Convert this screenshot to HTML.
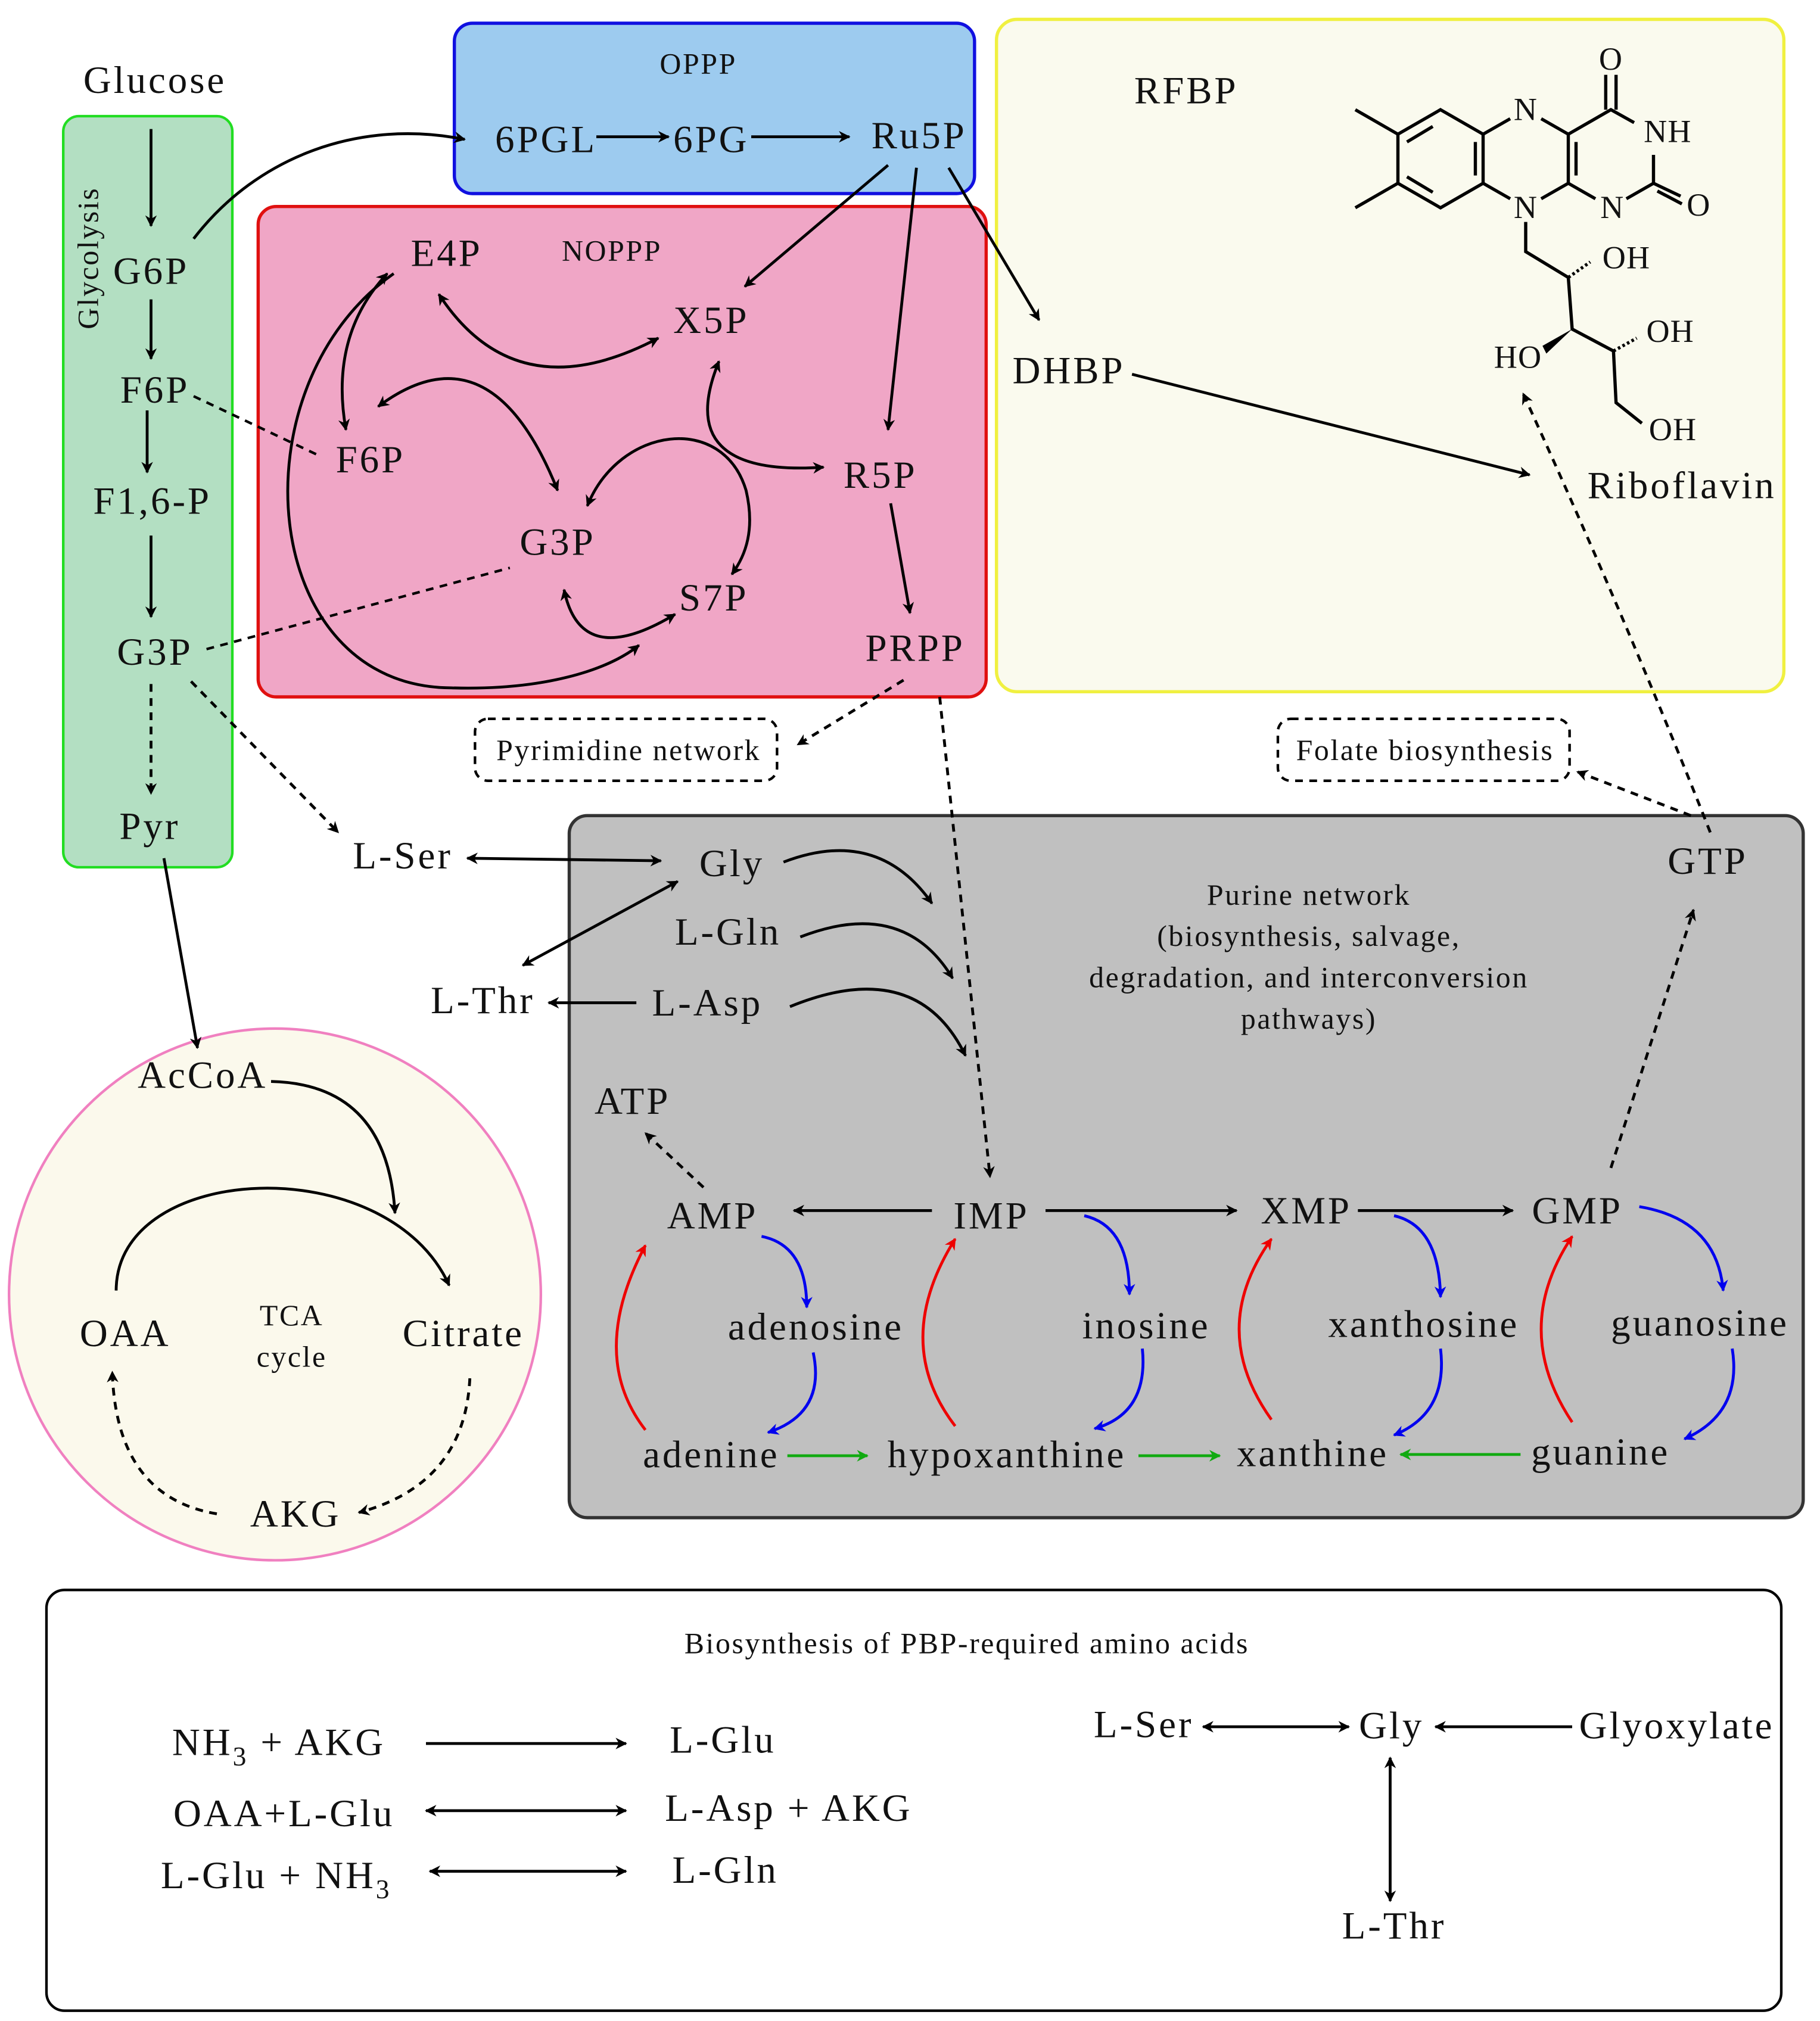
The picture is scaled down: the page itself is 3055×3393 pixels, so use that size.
<!DOCTYPE html>
<html><head><meta charset="utf-8"><style>
html,body{margin:0;padding:0;background:#fff;}
svg{display:block;}
text{font-family:"Liberation Serif",serif;fill:#111;}
</style></head><body>
<svg width="3055" height="3393" viewBox="0 0 1410 1566" xmlns="http://www.w3.org/2000/svg">
<defs>
<marker id="a" viewBox="0 0 10 10" refX="9" refY="5" markerWidth="9" markerHeight="9" markerUnits="userSpaceOnUse" orient="auto-start-reverse"><path d="M0,0 L10,5 L0,10 L3,5 z" fill="#000"/></marker>
<marker id="r" viewBox="0 0 10 10" refX="9" refY="5" markerWidth="9" markerHeight="9" markerUnits="userSpaceOnUse" orient="auto-start-reverse"><path d="M0,0 L10,5 L0,10 L3,5 z" fill="#e00"/></marker>
<marker id="b" viewBox="0 0 10 10" refX="9" refY="5" markerWidth="9" markerHeight="9" markerUnits="userSpaceOnUse" orient="auto-start-reverse"><path d="M0,0 L10,5 L0,10 L3,5 z" fill="#00e"/></marker>
<marker id="g" viewBox="0 0 10 10" refX="9" refY="5" markerWidth="9" markerHeight="9" markerUnits="userSpaceOnUse" orient="auto-start-reverse"><path d="M0,0 L10,5 L0,10 L3,5 z" fill="#1a1"/></marker>
</defs>

<rect x="49" y="90" width="131" height="582" rx="12" fill="#b3dfc2" stroke="#22dd22" stroke-width="2"/>
<rect x="352" y="18" width="403" height="132" rx="14" fill="#9dcbef" stroke="#1010e0" stroke-width="2.5"/>
<rect x="200" y="160" width="564" height="380" rx="14" fill="#f0a6c6" stroke="#e01010" stroke-width="2.5"/>
<rect x="772" y="15" width="610" height="521" rx="16" fill="#fafaee" stroke="#f0f040" stroke-width="2.5"/>
<rect x="441" y="632" width="956" height="544" rx="14" fill="#c0c0c0" stroke="#333" stroke-width="2.5"/>
<circle cx="213" cy="1003" r="206" fill="#fbf9ec" stroke="#f080c0" stroke-width="2"/>
<rect x="36" y="1232" width="1344" height="326" rx="14" fill="#fff" stroke="#000" stroke-width="2"/>
<rect x="368" y="557" width="234" height="48" rx="10" fill="none" stroke="#000" stroke-width="2" stroke-dasharray="6,5"/>
<rect x="990" y="557" width="226" height="48" rx="10" fill="none" stroke="#000" stroke-width="2" stroke-dasharray="6,5"/>

<g stroke="#000" stroke-width="2.5" fill="none">
<polygon points="1116,85 1149,104 1149,142 1116,161 1083,142 1083,104"/>
<polyline points="1149,104 1170,92"/><polyline points="1149,142 1170,154"/>
<polyline points="1194,92 1215,104 1215,142 1194,154"/>
<polyline points="1215,104 1248,85 1266,95"/>
<polyline points="1215,142 1236,154"/>
<polyline points="1260,154 1281,142 1281,120"/>
<line x1="1090" y1="110" x2="1110" y2="98"/><line x1="1090" y1="137" x2="1110" y2="149"/><line x1="1143" y1="110" x2="1143" y2="136"/>
<line x1="1221" y1="110" x2="1221" y2="136"/>
<line x1="1244" y1="85" x2="1244" y2="58"/><line x1="1252" y1="85" x2="1252" y2="58"/>
<line x1="1281" y1="142" x2="1302" y2="152"/><line x1="1284" y1="148" x2="1303" y2="158"/>
<line x1="1083" y1="104" x2="1050" y2="85"/><line x1="1083" y1="142" x2="1050" y2="161"/>
<polyline points="1182,172 1182,195 1215,215 1218,255 1250,272 1252,312 1272,328"/>
<line x1="1215" y1="215" x2="1232" y2="203" stroke-dasharray="2,2"/>
<line x1="1250" y1="272" x2="1268" y2="262" stroke-dasharray="2,2"/>
</g>
<polygon points="1218,255 1195,268 1198,274" fill="#000"/>
<g font-size="25" text-anchor="middle" letter-spacing="0.5">
<text x="1182" y="93">N</text><text x="1182" y="169">N</text><text x="1249" y="169">N</text>
<text x="1292" y="110">NH</text><text x="1248" y="54">O</text><text x="1316" y="167">O</text>
<text x="1260" y="208">OH</text><text x="1294" y="265">OH</text><text x="1296" y="341">OH</text><text x="1176" y="285">HO</text>
</g>

<g font-size="30" text-anchor="middle" letter-spacing="1.8">
<text x="120" y="72">Glucose</text>
<text x="117" y="220">G6P</text><text x="120" y="312">F6P</text><text x="118" y="398">F1,6-P</text>
<text x="120" y="515">G3P</text><text x="116" y="650">Pyr</text>
<text x="423" y="118">6PGL</text><text x="551" y="118">6PG</text><text x="712" y="115">Ru5P</text>
<text x="346" y="206">E4P</text><text x="551" y="258">X5P</text><text x="287" y="366">F6P</text>
<text x="432" y="430">G3P</text><text x="682" y="378">R5P</text><text x="553" y="473">S7P</text><text x="709" y="512">PRPP</text>
<text x="919" y="80">RFBP</text><text x="828" y="297">DHBP</text><text x="1303" y="386">Riboflavin</text>
<text x="312" y="673">L-Ser</text><text x="567" y="679">Gly</text><text x="564" y="732">L-Gln</text>
<text x="374" y="785">L-Thr</text><text x="548" y="787">L-Asp</text><text x="1323" y="677">GTP</text>
<text x="490" y="863">ATP</text><text x="552" y="952">AMP</text><text x="768" y="952">IMP</text>
<text x="1012" y="948">XMP</text><text x="1222" y="948">GMP</text>
<text x="632" y="1038">adenosine</text><text x="888" y="1037">inosine</text><text x="1103" y="1036">xanthosine</text><text x="1317" y="1035">guanosine</text>
<text x="551" y="1137">adenine</text><text x="780" y="1137">hypoxanthine</text><text x="1017" y="1136">xanthine</text><text x="1240" y="1135">guanine</text>
<text x="157" y="843">AcCoA</text><text x="97" y="1043">OAA</text><text x="359" y="1043">Citrate</text><text x="229" y="1183">AKG</text>
<text x="216" y="1360">NH<tspan font-size="21" dy="8">3</tspan><tspan dy="-8"> + AKG</tspan></text>
<text x="560" y="1358">L-Glu</text>
<text x="220" y="1415">OAA+L-Glu</text><text x="611" y="1411">L-Asp + AKG</text>
<text x="214" y="1463">L-Glu + NH<tspan font-size="21" dy="8">3</tspan></text><text x="562" y="1459">L-Gln</text>
<text x="886" y="1346">L-Ser</text><text x="1078" y="1347">Gly</text><text x="1299" y="1347">Glyoxylate</text><text x="1080" y="1502">L-Thr</text>
</g>
<g font-size="23" text-anchor="middle" letter-spacing="1.2">
<text x="541" y="57">OPPP</text><text x="474" y="202">NOPPP</text>
<text x="487" y="589">Pyrimidine network</text><text x="1104" y="589">Folate biosynthesis</text>
<text x="1014" y="701">Purine network</text><text x="1014" y="733">(biosynthesis, salvage,</text>
<text x="1014" y="765">degradation, and interconversion</text><text x="1014" y="797">pathways)</text>
<text x="226" y="1027">TCA</text><text x="226" y="1059">cycle</text>
<text x="749" y="1281">Biosynthesis of PBP-required amino acids</text>
<text x="0" y="0" transform="translate(76,200) rotate(-90)">Glycolysis</text>
</g>

<g stroke="#000" stroke-width="2.2" fill="none" marker-end="url(#a)">
<line x1="117" y1="100" x2="117" y2="175"/><line x1="117" y1="232" x2="117" y2="278"/>
<line x1="114" y1="318" x2="114" y2="366"/><line x1="117" y1="415" x2="117" y2="478"/>
<line x1="117" y1="530" x2="117" y2="615" stroke-dasharray="6,5"/>
<path d="M150,185 C200,120 280,92 360,108"/>
<line x1="462" y1="106" x2="518" y2="106"/><line x1="582" y1="106" x2="658" y2="106"/>
<line x1="688" y1="128" x2="577" y2="222"/><line x1="710" y1="130" x2="688" y2="333"/>
<line x1="735" y1="130" x2="805" y2="248"/><line x1="690" y1="390" x2="705" y2="475"/>
<line x1="877" y1="290" x2="1185" y2="368"/>
<path d="M1325,645 Q1260,480 1180,305" stroke-dasharray="6,5"/>
<line x1="1310" y1="632" x2="1222" y2="598" stroke-dasharray="6,5"/>
<line x1="700" y1="527" x2="618" y2="577" stroke-dasharray="6,5"/>
<line x1="728" y1="540" x2="767" y2="912" stroke-dasharray="6,5"/>
<line x1="148" y1="528" x2="262" y2="645" stroke-dasharray="6,5"/>
<line x1="127" y1="665" x2="153" y2="812"/>
<path d="M300,212 Q255,260 268,333" marker-start="url(#a)"/>
<path d="M340,228 Q400,320 510,262" marker-start="url(#a)"/>
<path d="M293,315 Q380,250 432,380" marker-start="url(#a)"/>
<path d="M557,280 Q520,370 638,362" marker-start="url(#a)"/>
<path d="M455,392 C480,330 560,320 578,380 C585,410 578,430 567,445" marker-start="url(#a)"/>
<path d="M437,457 Q450,520 523,476" marker-start="url(#a)"/>
<path d="M305,212 C180,300 200,533 350,533 C420,535 470,520 495,500"/>
<line x1="362" y1="665" x2="512" y2="667" marker-start="url(#a)"/>
<line x1="525" y1="683" x2="405" y2="748" marker-start="url(#a)"/>
<line x1="493" y1="777" x2="425" y2="777"/>
<path d="M607,668 Q680,640 722,700"/><path d="M620,726 Q700,695 738,758"/><path d="M612,780 Q710,740 748,818"/>
<line x1="545" y1="920" x2="500" y2="878" stroke-dasharray="6,5"/>
<line x1="722" y1="938" x2="615" y2="938"/><line x1="810" y1="938" x2="958" y2="938"/>
<line x1="1052" y1="938" x2="1172" y2="938"/>
<line x1="1248" y1="905" x2="1312" y2="705" stroke-dasharray="6,5"/>
<path d="M210,838 Q300,840 306,940"/>
<path d="M90,1000 C90,900 300,890 348,996"/>
<path d="M364,1068 Q360,1150 278,1172" stroke-dasharray="6,5"/>
<path d="M168,1173 Q90,1160 87,1063" stroke-dasharray="6,5"/>
<line x1="330" y1="1351" x2="485" y2="1351"/>
<line x1="330" y1="1403" x2="485" y2="1403" marker-start="url(#a)"/>
<line x1="333" y1="1450" x2="485" y2="1450" marker-start="url(#a)"/>
<line x1="932" y1="1338" x2="1045" y2="1338" marker-start="url(#a)"/>
<line x1="1218" y1="1338" x2="1112" y2="1338"/>
<line x1="1077" y1="1362" x2="1077" y2="1473" marker-start="url(#a)"/>
</g>
<g stroke="#000" stroke-width="2" fill="none" stroke-dasharray="6,5">
<line x1="160" y1="503" x2="395" y2="440"/><line x1="150" y1="307" x2="245" y2="352"/>
</g>
<g stroke="#00e" stroke-width="2.2" fill="none" marker-end="url(#b)">
<path d="M590,958 Q625,965 625,1013"/><path d="M630,1048 Q640,1095 595,1110"/>
<path d="M840,942 Q875,950 875,1003"/><path d="M885,1045 Q890,1095 848,1107"/>
<path d="M1080,942 Q1115,950 1116,1005"/><path d="M1116,1045 Q1122,1095 1080,1112"/>
<path d="M1270,935 Q1330,945 1335,1000"/><path d="M1342,1045 Q1350,1095 1305,1115"/>
</g>
<g stroke="#e00" stroke-width="2.2" fill="none" marker-end="url(#r)">
<path d="M500,1108 Q455,1050 500,965"/><path d="M740,1105 Q690,1040 740,960"/>
<path d="M985,1100 Q935,1030 985,960"/><path d="M1218,1102 Q1170,1030 1218,958"/>
</g>
<g stroke="#1a1" stroke-width="2.2" fill="none" marker-end="url(#g)">
<line x1="610" y1="1128" x2="672" y2="1128"/><line x1="882" y1="1128" x2="945" y2="1128"/>
<line x1="1178" y1="1127" x2="1085" y2="1127"/>
</g>
</svg>
</body></html>
